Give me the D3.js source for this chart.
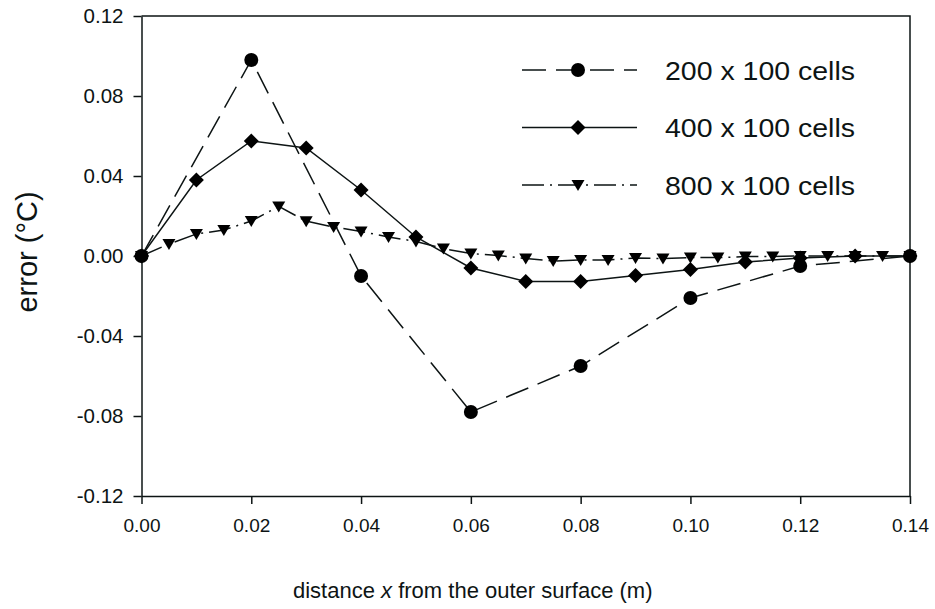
<!DOCTYPE html>
<html>
<head>
<meta charset="utf-8">
<script src="https://cdn.jsdelivr.net/npm/d3@7"></script>
<style>
  html, body { margin: 0; padding: 0; background: #fff; }
  svg { display: block; font-family: "Liberation Sans", Arial, sans-serif; }
</style>
</head>
<body>
<svg id="chart" width="935" height="609"></svg>
<script>
// Grid resolution comparison: error along the wall thickness
const seriesNames = ["200 x 100 cells", "400 x 100 cells", "800 x 100 cells"];

const x200 = [0, 0.02, 0.04, 0.06, 0.08, 0.10, 0.12, 0.14];
const y200 = [0, 0.098, -0.010, -0.078, -0.055, -0.021, -0.005, 0];

const x400 = [0, 0.01, 0.02, 0.03, 0.04, 0.05, 0.06, 0.07, 0.08, 0.09, 0.10, 0.11, 0.12, 0.13, 0.14];
const y400 = [0, 0.038, 0.0575, 0.054, 0.033, 0.0095, -0.006, -0.0127, -0.0127, -0.0098, -0.0068, -0.003, -0.001, 0, 0];

const x800 = [0, 0.005, 0.01, 0.015, 0.02, 0.025, 0.03, 0.035, 0.04, 0.045, 0.05, 0.055, 0.06, 0.065,
              0.07, 0.075, 0.08, 0.085, 0.09, 0.095, 0.10, 0.105, 0.11, 0.115, 0.12, 0.125, 0.13, 0.135, 0.14];
const y800 = [0, 0.006, 0.011, 0.013, 0.0175, 0.0248, 0.0174, 0.0145, 0.0123, 0.0095, 0.0073, 0.0037, 0.0012, 0.0003,
              -0.0013, -0.0025, -0.002, -0.002, -0.001, -0.0013, -0.0008, -0.0008, -0.0003, -0.0002, 0, 0, 0, 0, 0];

const xTicks = [0, 0.02, 0.04, 0.06, 0.08, 0.10, 0.12, 0.14];
const yTicks = [-0.12, -0.08, -0.04, 0, 0.04, 0.08, 0.12];

const ink = "#0d1414";
const svg = d3.select("#chart");

const plot = { left: 141.5, right: 910, top: 16, bottom: 496 };
const x = d3.scaleLinear().domain([0, 0.14]).range([plot.left, plot.right]);
const y = d3.scaleLinear().domain([-0.12, 0.12]).range([plot.bottom, plot.top]);
const fmt = d => d.toFixed(2);

// frame (top and right edges)
svg.append("path")
  .attr("d", `M${plot.left},${plot.top}H${plot.right}V${plot.bottom}`)
  .attr("fill", "none").attr("stroke", ink).attr("stroke-width", 1.5);

// axes
const gx = svg.append("g").attr("transform", `translate(0,${plot.bottom})`)
  .call(d3.axisBottom(x).tickValues(xTicks).tickFormat(fmt).tickSize(8).tickSizeOuter(0).tickPadding(10));
const gy = svg.append("g").attr("transform", `translate(${plot.left},0)`)
  .call(d3.axisLeft(y).tickValues(yTicks).tickFormat(fmt).tickSize(8).tickSizeOuter(0).tickPadding(10));

[gx, gy].forEach(g => {
  g.select(".domain").attr("stroke", ink).attr("stroke-width", 1.5);
  g.selectAll(".tick line").attr("stroke", ink).attr("stroke-width", 1.5);
  g.selectAll(".tick text").attr("fill", ink)
    .style("font-family", "'Liberation Sans', Arial, sans-serif");
});
gx.selectAll(".tick text").style("font-size", "19px").attr("dy", "0.71em").attr("y", 23);
gy.selectAll(".tick text").style("font-size", "20.5px");

// axis titles
const xt = svg.append("text")
  .attr("x", 293).attr("y", 598)
  .attr("fill", ink).style("font-size", "22px");
xt.append("tspan").text("distance ");
xt.append("tspan").style("font-style", "italic").text("x");
xt.append("tspan").text(" from the outer surface (m)");

svg.append("text")
  .attr("transform", "translate(37,252) rotate(-90)")
  .attr("text-anchor", "middle")
  .attr("fill", ink).style("font-size", "29px")
  .text("error (°C)");

// series definitions
const series = [
  { name: seriesNames[2], xs: x800, ys: y800, dash: "22,6,2,6", shape: "tri" },
  { name: seriesNames[1], xs: x400, ys: y400, dash: null, shape: "diamond" },
  { name: seriesNames[0], xs: x200, ys: y200, dash: "24,10", shape: "circle" }
];

const symbolPath = {
  circle: d3.symbol().type(d3.symbolCircle).size(Math.PI * 7 * 7)(),
  diamond: "M0,-7.5L7.5,0L0,7.5L-7.5,0Z",
  tri: "M-6.5,-5L6.5,-5L0,6Z"
};

const line = d3.line().x(d => x(d[0])).y(d => y(d[1]));

series.forEach(s => {
  const pts = s.xs.map((v, i) => [v, s.ys[i]]);
  svg.append("path").datum(pts)
    .attr("d", line).attr("fill", "none")
    .attr("stroke", ink).attr("stroke-width", 1.5)
    .attr("stroke-dasharray", s.dash);
});
series.forEach(s => {
  const pts = s.xs.map((v, i) => [v, s.ys[i]]);
  svg.append("g").selectAll("path").data(pts).join("path")
    .attr("transform", d => `translate(${x(d[0])},${y(d[1])})`)
    .attr("d", symbolPath[s.shape]).attr("fill", "#000");
});

// legend
const legendRows = [
  { name: seriesNames[0], dash: "24,10", shape: "circle" },
  { name: seriesNames[1], dash: null, shape: "diamond" },
  { name: seriesNames[2], dash: "22,6,2,6", shape: "tri" }
];
const lg = svg.append("g");
legendRows.forEach((r, i) => {
  const cy = 70 + i * 57.5;
  lg.append("line").attr("x1", 522).attr("x2", 637).attr("y1", cy).attr("y2", cy)
    .attr("stroke", ink).attr("stroke-width", 1.5).attr("stroke-dasharray", r.dash);
  lg.append("path").attr("transform", `translate(578,${cy})`)
    .attr("d", symbolPath[r.shape]).attr("fill", "#000");
  lg.append("text").attr("x", 665).attr("y", cy + 9.5)
    .attr("textLength", 190).attr("lengthAdjust", "spacingAndGlyphs")
    .attr("fill", ink).style("font-size", "25px").text(r.name);
});
</script>
</body>
</html>
